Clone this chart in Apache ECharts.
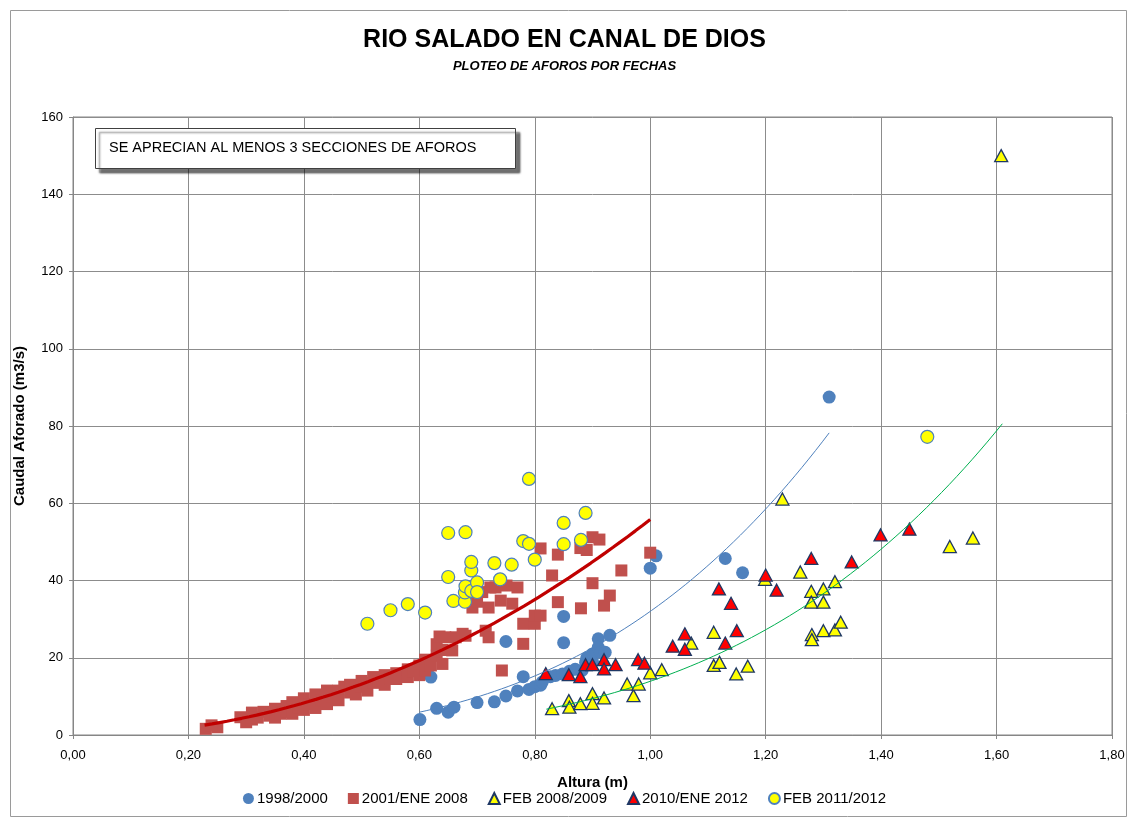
<!DOCTYPE html>
<html>
<head>
<meta charset="utf-8">
<script src="https://cdn.jsdelivr.net/npm/echarts@6/dist/echarts.min.js"></script>
<style>
html,body{margin:0;padding:0;background:#fff;}
#c{width:1129px;height:820px;}
</style>
</head>
<body>
<div id="c"></div>
<script>
// ---- data ----
const titleText = 'RIO SALADO EN CANAL DE DIOS';
const subtitleText = 'PLOTEO DE AFOROS POR FECHAS';
const noteText = 'SE APRECIAN AL MENOS 3 SECCIONES DE AFOROS';
const seriesNames = ['1998/2000', '2001/ENE 2008', 'FEB 2008/2009', '2010/ENE 2012', 'FEB 2011/2012'];
const xTicks = [0, 1.8, 0.2];
const yTicks = [0, 160, 20];

const s1998 = [[0.601,4.0],[0.62,15.0],[0.63,6.9],[0.65,5.9],[0.66,7.2],[0.70,8.4],[0.73,8.6],[0.75,10.1],[0.75,24.2],
  [0.77,11.4],[0.78,15.1],[0.79,11.8],[0.80,12.5],[0.81,12.9],[0.813,13.7],[0.827,15.1],[0.836,15.4],[0.848,15.8],
  [0.85,30.7],[0.85,23.9],[0.86,16.5],[0.87,17.0],[0.882,16.7],[0.888,18.8],[0.89,20.0],[0.90,19.0],[0.90,21.0],
  [0.91,24.9],[0.91,22.7],[0.914,21.4],[0.922,21.4],[0.93,25.8],[1.0,43.2],[1.01,46.4],[1.13,45.7],[1.16,42.0],[1.31,87.5]];

const s2001 = [[0.23,1.6],[0.25,2.0],[0.24,2.5],[0.29,4.6],[0.30,3.3],[0.31,4.0],[0.31,5.8],[0.32,4.5],[0.33,6.0],
  [0.34,5.0],[0.35,6.8],[0.35,4.5],[0.36,5.5],[0.37,7.5],[0.37,6.0],[0.38,8.5],[0.38,5.5],[0.39,7.0],[0.40,9.5],
  [0.40,6.5],[0.41,8.0],[0.42,10.5],[0.42,7.0],[0.43,9.0],[0.44,11.5],[0.44,8.0],[0.45,10.0],[0.46,11.5],[0.46,9.0],
  [0.47,12.5],[0.48,11.0],[0.48,13.0],[0.49,10.5],[0.50,12.5],[0.50,14.0],[0.51,11.5],[0.52,13.5],[0.52,15.0],
  [0.53,14.0],[0.54,15.5],[0.54,13.0],[0.55,14.5],[0.56,16.0],[0.56,14.5],[0.57,15.5],[0.58,17.0],[0.58,15.0],
  [0.59,16.5],[0.60,18.0],[0.60,15.5],[0.61,19.5],[0.61,16.7],[0.62,18.0],[0.63,20.5],[0.63,23.5],[0.635,25.5],
  [0.64,18.4],[0.64,22.0],[0.645,25.3],[0.657,21.9],[0.663,25.3],[0.675,26.2],[0.68,25.7],[0.692,33.0],[0.70,34.5],
  [0.709,37.0],[0.715,27.0],[0.72,33.0],[0.72,25.3],[0.723,38.2],[0.732,38.2],[0.741,34.8],[0.743,16.7],[0.751,38.7],
  [0.761,34.0],[0.77,38.2],[0.78,23.6],[0.78,28.8],[0.80,28.8],[0.80,30.9],[0.81,30.9],[0.81,48.3],[0.83,41.3],
  [0.84,46.7],[0.84,34.4],[0.879,48.4],[0.88,32.8],[0.89,47.9],[0.90,39.3],[0.90,51.2],[0.912,50.6],[0.92,33.5],
  [0.93,36.1],[0.95,42.6],[1.0,47.2]];

const sFeb0809 = [[0.83,6.8],[0.859,8.9],[0.86,7.2],[0.879,8.1],[0.90,10.7],[0.90,8.2],[0.92,9.6],[0.96,13.2],
  [0.971,10.2],[0.98,13.2],[1.0,16.1],[1.02,16.9],[1.071,23.8],[1.11,26.6],[1.11,18.0],[1.12,18.8],[1.149,15.8],
  [1.169,17.8],[1.199,40.3],[1.229,61.1],[1.26,42.2],[1.279,37.2],[1.279,34.4],[1.28,26.0],[1.28,24.7],[1.30,37.8],
  [1.30,34.4],[1.30,27.0],[1.32,39.7],[1.32,27.2],[1.33,29.2],[1.519,48.8],[1.559,51.0],[1.608,150]];

const s2010 = [[0.819,15.9],[0.859,15.6],[0.879,15.1],[0.888,18.2],[0.90,18.2],[0.92,19.5],[0.92,17.1],[0.94,18.2],
  [0.979,19.5],[0.99,18.6],[1.039,23.0],[1.06,26.2],[1.06,22.2],[1.13,23.8],[1.15,27.0],[1.14,34.1],[1.119,37.8],
  [1.20,41.4],[1.219,37.5],[1.279,45.7],[1.349,44.8],[1.399,51.8],[1.449,53.3]];

const sFeb1112 = [[0.51,28.8],[0.55,32.3],[0.58,33.9],[0.61,31.7],[0.65,52.3],[0.68,52.5],[0.65,40.9],[0.659,34.7],
  [0.679,34.5],[0.679,36.9],[0.68,38.5],[0.69,37.3],[0.69,42.6],[0.69,44.8],[0.70,39.5],[0.70,37.0],[0.73,44.5],
  [0.74,40.3],[0.76,44.1],[0.78,50.2],[0.79,49.5],[0.79,66.3],[0.80,45.4],[0.85,54.9],[0.85,49.4],[0.88,50.5],
  [0.888,57.5],[1.48,77.2]];

// power trendlines (y = a * x^b): [a, b, xFrom, xTo]
const trendBlue  = [32.0, 3.31, 0.60, 1.31];
const trendRed   = [55.8, 2.08, 0.228, 1.0];
const trendGreen = [13.9, 3.69, 0.82, 1.61];

function trendPoints(t){
  const pts = [];
  const n = 60;
  for (let i = 0; i <= n; i++){
    const x = t[2] + (t[3]-t[2]) * i / n;
    pts.push([x, t[0] * Math.pow(x, t[1])]);
  }
  return pts;
}

const FONT = '"Liberation Sans", Arial, sans-serif';

const chart = echarts.init(document.getElementById('c'), null, {renderer:'canvas'});
chart.setOption({
  backgroundColor:'#fff',
  animation:false,
  title:[
    {text:titleText, left:'center', top:23, textStyle:{fontFamily:FONT, fontSize:25, fontWeight:'bold', color:'#000'}},
    {text:subtitleText, left:'center', top:55, textStyle:{fontFamily:FONT, fontSize:13, fontWeight:'bold', fontStyle:'italic', color:'#000'}}
  ],
  grid:{left:73, right:17, top:117, bottom:85, show:true, borderColor:'#868686', borderWidth:1},
  legend:{
    data:seriesNames, bottom:9, left:'center', itemGap:20, itemWidth:11, itemHeight:11,
    textStyle:{fontFamily:FONT, fontSize:15, color:'#000', padding:[0,0,0,-2]}
  },
  xAxis:{
    type:'value', min:xTicks[0], max:xTicks[1], interval:xTicks[2],
    name:'Altura (m)', nameLocation:'middle', nameGap:40,
    nameTextStyle:{fontFamily:FONT, fontSize:15, fontWeight:'bold', color:'#000'},
    axisLine:{show:true, lineStyle:{color:'#868686'}},
    axisTick:{show:true, length:4, lineStyle:{color:'#868686'}},
    axisLabel:{fontFamily:FONT, fontSize:13, color:'#000', margin:14,
      formatter:v=>v.toFixed(2).replace('.', ',')},
    splitLine:{show:true, lineStyle:{color:'#8c8c8c', width:1}}
  },
  yAxis:{
    type:'value', min:yTicks[0], max:yTicks[1], interval:yTicks[2],
    name:'Caudal Aforado (m3/s)', nameLocation:'middle', nameGap:46,
    nameTextStyle:{fontFamily:FONT, fontSize:15, fontWeight:'bold', color:'#000'},
    axisLine:{show:true, lineStyle:{color:'#868686'}},
    axisTick:{show:true, length:4, lineStyle:{color:'#868686'}},
    axisLabel:{fontFamily:FONT, fontSize:13, color:'#000', margin:10},
    splitLine:{show:true, lineStyle:{color:'#8c8c8c', width:1}}
  },
  graphic:[
    {type:'rect', left:8, top:8, shape:{width:1116, height:806}, style:{fill:'none', stroke:'#9a9a9a', lineWidth:1}, silent:true, z:-10},
    {type:'rect', left:95, top:128, shape:{width:420, height:40},
      style:{fill:'#fff', stroke:'#404040', lineWidth:1, shadowColor:'rgba(0,0,0,0.55)', shadowOffsetX:4, shadowOffsetY:4, shadowBlur:2}, z:100},
    {type:'text', left:109, top:140, style:{text:noteText, fontFamily:FONT, fontSize:14.5, fill:'#000'}, z:101}
  ],
  series:[
    {name:seriesNames[0], type:'scatter', data:s1998, symbol:'circle', symbolSize:13,
      itemStyle:{color:'#4F81BD', opacity:1}},
    {name:seriesNames[1], type:'scatter', data:s2001, symbol:'rect', symbolSize:12,
      itemStyle:{color:'#C0504D', opacity:1}},
    {name:seriesNames[2], type:'scatter', data:sFeb0809, symbol:'triangle', symbolSize:[13,12],
      itemStyle:{color:'#FFFF00', borderColor:'#1F3864', borderWidth:1.3, opacity:1}},
    {name:seriesNames[3], type:'scatter', data:s2010, symbol:'triangle', symbolSize:[13,12],
      itemStyle:{color:'#FF0000', borderColor:'#1F3864', borderWidth:1.3, opacity:1}},
    {name:seriesNames[4], type:'scatter', data:sFeb1112, symbol:'circle', symbolSize:13,
      itemStyle:{color:'#FFFF00', borderColor:'#4F81BD', borderWidth:1.2, opacity:1}},
    {name:'trendBlue', type:'line', data:trendPoints(trendBlue), showSymbol:false, symbol:'none', smooth:false,
      lineStyle:{color:'#4F81BD', width:1}, z:5},
    {name:'trendRed', type:'line', data:trendPoints(trendRed), showSymbol:false, symbol:'none',
      lineStyle:{color:'#C00000', width:3.2}, z:5},
    {name:'trendGreen', type:'line', data:trendPoints(trendGreen), showSymbol:false, symbol:'none',
      lineStyle:{color:'#00B050', width:1}, z:5}
  ]
});
</script>
</body>
</html>
